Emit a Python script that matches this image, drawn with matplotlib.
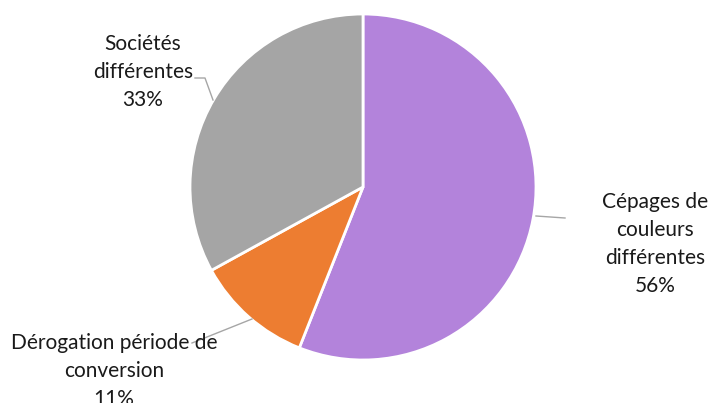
import matplotlib
matplotlib.use("Agg")
import matplotlib.pyplot as plt

plt.rcParams['font.family'] = ['Lato', 'DejaVu Sans']

# data
labels = ["Cépages de\ncouleurs\ndifférentes", "Dérogation période de\nconversion", "Sociétés\ndifférentes"]
shares = [56, 11, 33]
colors = ["#B383DB", "#ED7D31", "#A5A5A5"]

W, H = 709, 403
fig = plt.figure(figsize=(W / 100, H / 100), dpi=100)
ax = fig.add_axes([0, 0, 1, 1])

cx, cy, r = 363, H - 187, 173
ax.pie(shares, colors=colors, startangle=90, counterclock=False,
       center=(cx, cy), radius=r, frame=True,
       wedgeprops=dict(edgecolor="white", linewidth=2))
ax.set_xlim(0, W)
ax.set_ylim(0, H)
ax.axis("off")

# label text positions (pixel coords, top-down) and leader lines
text_pos = [(655, 244), (114, 371), (143, 72)]
leaders = [
    [(536, 216), (565, 218)],
    [(252, 319), (192, 343)],
    [(213, 100), (205, 78), (195, 78)],
]

for lab, val, (tx, ty), pts in zip(labels, shares, text_pos, leaders):
    xs = [p[0] for p in pts]
    ys = [H - p[1] for p in pts]
    ax.plot(xs, ys, color="#A6A6A6", linewidth=1)
    ax.text(tx, H - ty, f"{lab}\n{val}%", ha="center", va="center",
            fontsize=15, color="#1a1a1a", linespacing=1.48)

fig.savefig("out.png", dpi=100)
